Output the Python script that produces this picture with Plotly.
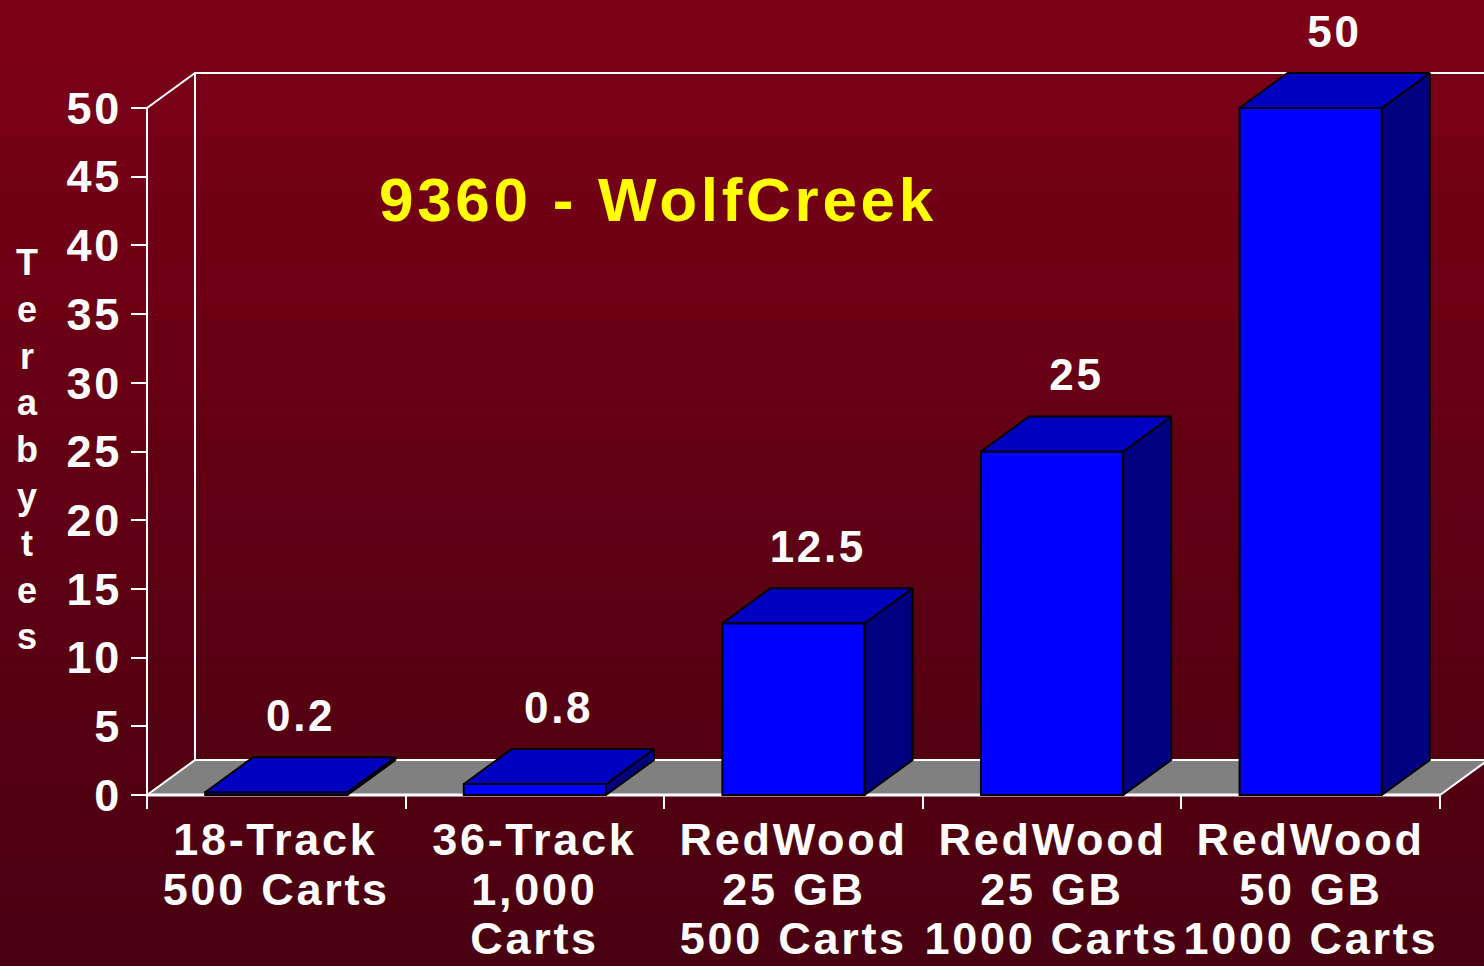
import plotly.graph_objects as go

# data
label_lines = [
    ["18-Track", "500 Carts"],
    ["36-Track", "1,000", "Carts"],
    ["RedWood", "25 GB", "500 Carts"],
    ["RedWood", "25 GB", "1000 Carts"],
    ["RedWood", "50 GB", "1000 Carts"],
]
values = [0.2, 0.8, 12.5, 25, 50]
value_text = ["0.2", "0.8", "12.5", "25", "50"]
y_ticks = [0, 5, 10, 15, 20, 25, 30, 35, 40, 45, 50]
title_text = "9360 - WolfCreek"
axis_title = "Terabytes"

# page geometry (pixels)
W, H = 1484, 966
X0_PX, CAT_PX = 147, 258.6      # x = -0.5 sits at 147px, one category is 258.6px
Y0_PX, UNIT_PX = 795, 13.74     # y = 0 sits at 795px
ML, MT, MB = 140, 66, 166
plot_w = W - ML
plot_h = H - MT - MB

DX = 48 / CAT_PX                # 3D depth in data units
DY = 35 / UNIT_PX
BAR_W = 0.55

x_min = -0.5 - (X0_PX - ML) / CAT_PX
x_max = -0.5 + (W - X0_PX) / CAT_PX
y_min = -(H - MB - Y0_PX) / UNIT_PX
y_max = (Y0_PX - MT) / UNIT_PX

FONT = "Liberation Sans, Arial, sans-serif"

fig = go.Figure()

# front faces
xs = list(range(len(values)))
fig.add_trace(go.Bar(
    x=xs, y=values, width=BAR_W,
    marker=dict(color="#0000FF", line=dict(color="black", width=2)),
    hoverinfo="skip", showlegend=False,
))

# side and top faces
for x, v in zip(xs, values):
    r = x + BAR_W / 2
    l = x - BAR_W / 2
    fig.add_trace(go.Scatter(
        x=[r, r + DX, r + DX, r, r], y=[0, DY, v + DY, v, 0],
        fill="toself", fillcolor="#000080", mode="lines",
        line=dict(color="black", width=2), hoverinfo="skip", showlegend=False,
    ))
    fig.add_trace(go.Scatter(
        x=[l, r, r + DX, l + DX, l], y=[v, v, v + DY, v + DY, v],
        fill="toself", fillcolor="#0000C0", mode="lines",
        line=dict(color="black", width=2), hoverinfo="skip", showlegend=False,
    ))
    fig.add_annotation(
        x=x + DX / 2, y=v + DY, yshift=42,
        text=value_text[x], showarrow=False, xanchor="center", yanchor="middle",
        font=dict(family=FONT, size=44, color="white", weight="bold"),
    )

# floor and wall frame
n = len(values)
fig.add_shape(
    type="path", layer="below", xref="x", yref="y",
    path=f"M -0.5,0 L {n - 0.5},0 L {n - 0.5 + DX},{DY} L {-0.5 + DX},{DY} Z",
    fillcolor="#808080", line=dict(color="white", width=2),
)
fig.add_shape(
    type="line", layer="below", xref="x", yref="y",
    x0=-0.5, y0=0, x1=n - 0.5, y1=0, line=dict(color="white", width=3),
)
fig.add_shape(
    type="path", layer="below", xref="x", yref="y",
    path=(f"M -0.5,0 L -0.5,{y_ticks[-1]} L {-0.5 + DX},{y_ticks[-1] + DY} "
          f"L {x_max},{y_ticks[-1] + DY} M {-0.5 + DX},{y_ticks[-1] + DY} L {-0.5 + DX},{DY}"),
    line=dict(color="white", width=2),
)

# background gradient
top_rgb = (124, 0, 24)
bot_rgb = (72, 0, 16)
bands = 90
plot_bottom = H - MB
for i in range(bands):
    p0 = H * i / bands
    p1 = H * (i + 1) / bands + 1
    t = i / (bands - 1)
    c = tuple(round(a + (b - a) * t) for a, b in zip(top_rgb, bot_rgb))
    fig.add_shape(
        type="rect", layer="below", xref="paper", yref="paper",
        x0=-ML / plot_w - 0.01, x1=1.01,
        y0=(plot_bottom - p1) / plot_h, y1=(plot_bottom - p0) / plot_h,
        fillcolor=f"rgb{c}", line=dict(width=0),
    )

# category labels
line_y = [839, 889, 938]
for x, lines in zip(xs, label_lines):
    for k, txt in enumerate(lines):
        fig.add_annotation(
            x=x, y=0, yshift=Y0_PX - line_y[k],
            text=txt, showarrow=False, xanchor="center", yanchor="middle",
            font=dict(family=FONT, size=45, color="white", weight="bold"),
        )

# vertical axis title, one letter per line
fig.add_annotation(
    xref="paper", yref="paper",
    x=(28 - ML) / plot_w, y=(plot_bottom - 450) / plot_h,
    xanchor="center", yanchor="middle",
    text="<br>".join(axis_title), showarrow=False,
    font=dict(family=FONT, size=36, color="white", weight="bold"),
)

fig.update_layout(
    width=W, height=H,
    margin=dict(l=ML, r=0, t=MT, b=MB, pad=0),
    paper_bgcolor="rgb(72,0,16)",
    plot_bgcolor="rgba(0,0,0,0)",
    showlegend=False,
    title=dict(
        text=title_text, x=658 / W, y=1 - 199 / H,
        xanchor="center", yanchor="middle", xref="container", yref="container",
        font=dict(family=FONT, size=62, color="#FFFF00", weight="bold"),
    ),
    xaxis=dict(
        range=[x_min, x_max], showgrid=False, zeroline=False, showline=False,
        tickmode="array", tickvals=[i - 0.5 for i in range(n + 1)],
        showticklabels=False, ticks="outside", ticklen=13, tickwidth=2,
        tickcolor="white", anchor="free", position=(plot_bottom - Y0_PX) / plot_h,
    ),
    yaxis=dict(
        range=[y_min, y_max], showgrid=False, zeroline=False, showline=False,
        tickmode="array", tickvals=y_ticks, ticks="outside", ticklen=16,
        tickwidth=2, tickcolor="white", anchor="free", position=(X0_PX - ML) / plot_w,
        tickfont=dict(family=FONT, size=45, color="white", weight="bold"),
    ),
)

# no page margin, and the slightly tracked lettering of the original slide
post = """
document.body.style.margin = '0';
document.querySelectorAll('.gtitle, .annotation-text, .ytick text').forEach(function (t) {
    t.style.letterSpacing = '0.06em';
});
"""
fig.write_html("out.html", post_script=post, config={"displayModeBar": False})
